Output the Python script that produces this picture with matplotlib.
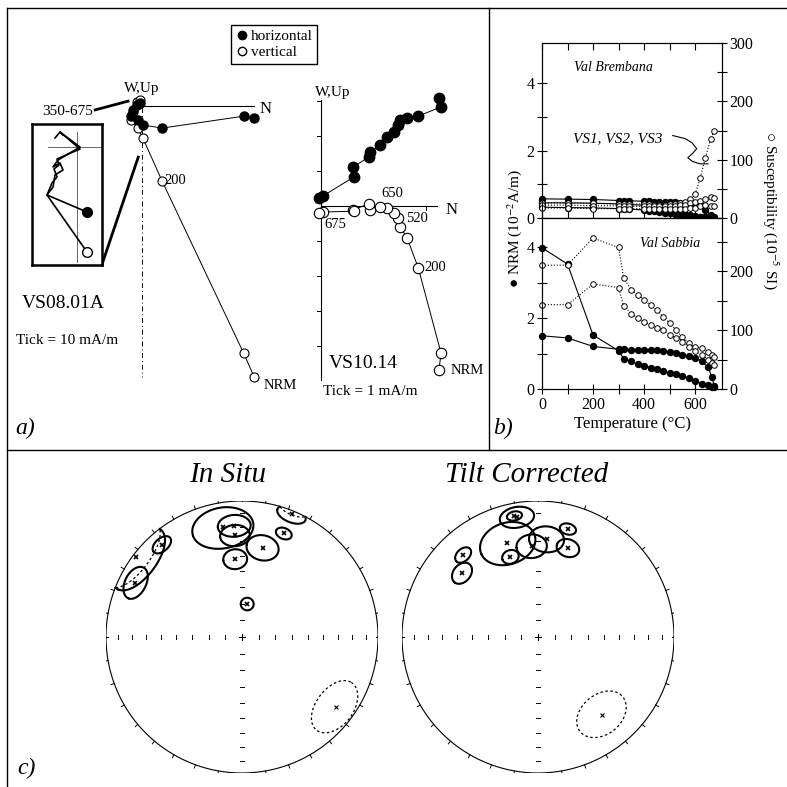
import numpy as np
import matplotlib.pyplot as plt
from matplotlib.lines import Line2D

plt.rcParams['font.family'] = ['Liberation Serif', 'DejaVu Sans']
plt.rcParams['mathtext.fontset'] = 'stix'

# ---------------- data ----------------
# a) Zijderveld, VS08.01A (mA/m), NRM first
n_vs08 = [32.0, 29.0, 5.7, 0.2, -1.2, -3.2, -2.6, -1.4, -0.6]
w_vs08 = [-3.4, -2.9, -6.3, -5.4, -4.0, -2.8, -1.0, 0.4, 1.0]
up_vs08 = [-77.4, -70.6, -21.4, -9.1, -6.3, -4.0, -1.7, 1.1, 1.7]

# inset (magnified 350-675 steps)
ins_h_x = [10, -30, -24, -22, -14, -17, -24, -19, 3, -17, -14]
ins_h_y = [-65, -48, -40, -28, -23, -16, -20, -13, 0, 15, 12]
ins_v_x = [10, -30, -25, -20, -23, -18, -20, 3, -17, -22]
ins_v_y = [-105, -48, -36, -30, -22, -18, -12, -2, 15, 9]

# a) Zijderveld, VS10.14 (mA/m)
n_vs10 = [3.37, 3.43, 2.78, 2.46, 2.26, 2.20, 2.10, 1.89, 1.69, 1.40, 1.37, 0.91, 0.94, 0.06, -0.07]
w_vs10 = [3.09, 2.83, 2.57, 2.51, 2.46, 2.31, 2.11, 1.97, 1.74, 1.54, 1.40, 1.11, 0.83, 0.29, 0.23]
up_vs10 = [-4.69, -4.20, -1.77, -0.91, -0.60, -0.34, -0.20, -0.06, -0.03, -0.11, 0.06, -0.11, -0.15, -0.17, -0.20]

# b) thermal demagnetisation / susceptibility
t_brem = [0, 100, 200, 300, 320, 340, 400, 420, 440, 460, 480, 500, 520, 540, 560, 580, 600, 620, 640, 660, 675]
nrm_brem1 = [0.57, 0.56, 0.55, 0.52, 0.52, 0.51, 0.50, 0.50, 0.49, 0.49, 0.48, 0.48, 0.47, 0.46, 0.45, 0.44, 0.42, 0.38, 0.25, 0.08, 0.04]
nrm_brem2 = [0.45, 0.45, 0.44, 0.42, 0.41, 0.40, 0.38, 0.36, 0.33, 0.30, 0.27, 0.23, 0.19, 0.15, 0.11, 0.08, 0.05, 0.03, 0.02, 0.01, 0.01]
nrm_brem3 = [0.32, 0.31, 0.30, 0.28, 0.27, 0.26, 0.24, 0.22, 0.20, 0.18, 0.16, 0.14, 0.12, 0.10, 0.08, 0.06, 0.04, 0.03, 0.02, 0.01, 0.01]
sus_brem1 = [26, 26, 25, 24, 24, 24, 24, 24, 23, 23, 23, 24, 24, 25, 28, 32, 41, 69, 103, 135, 150]
sus_brem2 = [22, 22, 21, 21, 21, 20, 20, 20, 20, 20, 21, 21, 21, 22, 23, 25, 28, 30, 33, 36, 35]
sus_brem3 = [17, 17, 16, 16, 16, 16, 16, 15, 15, 15, 15, 15, 15, 16, 16, 17, 18, 20, 22, 21, 20]

t_sab = [0, 100, 200, 300, 320, 350, 375, 400, 425, 450, 475, 500, 525, 550, 575, 600, 625, 650, 665, 675]
nrm_sab1 = [3.98, 3.52, 1.52, 1.08, 0.85, 0.78, 0.70, 0.66, 0.60, 0.55, 0.50, 0.46, 0.41, 0.36, 0.30, 0.22, 0.15, 0.10, 0.07, 0.05]
nrm_sab2 = [1.50, 1.44, 1.20, 1.12, 1.12, 1.10, 1.10, 1.10, 1.10, 1.10, 1.08, 1.05, 1.02, 0.97, 0.92, 0.88, 0.78, 0.62, 0.35, 0.08]
sus_sab1 = [210, 210, 256, 240, 188, 168, 160, 151, 142, 134, 122, 112, 100, 88, 78, 71, 70, 63, 58, 54]
sus_sab2 = [143, 143, 178, 172, 140, 128, 120, 114, 108, 104, 100, 92, 86, 80, 72, 64, 58, 50, 44, 40]

# c) site means: declination, inclination, alpha95
dec_situ = [307, 297, 319, 350, 356, 356, 355, 13, 22, 22, 9, 127]
inc_situ = [3, 13, 11, 19, 19, 26, 42, 33, 19, 3, 70, -15]
a95_situ = [16, 8, 5, 15, 8, 7.5, 6.5, 8.5, 4, 6.5, 3.8, 14]

dec_tilt = [350, 349, 342, 341, 356, 5, 15.5, 18.6, 317.6, 310, 140.6]
inc_tilt = [11.4, 10.2, 28, 37.7, 33.4, 28.5, 18.7, 31.5, 19.4, 27.8, -26.7]
a95_tilt = [8, 3.5, 14.5, 4.5, 8, 9, 4, 6, 4.5, 6, 14]

# ---------------- helpers ----------------
W = H = 787.0


def box(x0, y0, x1, y1):
    return [x0 / W, 1 - y1 / H, (x1 - x0) / W, (y1 - y0) / H]


def fx(x):
    return x / W


def fy(y):
    return 1 - y / H


fig = plt.figure(figsize=(7.87, 7.87), dpi=100)

# frame lines
for xs, ys in [((7, 787), (8, 8)), ((7, 7), (8, 787)), ((7, 787), (450, 450)), ((489, 489), (8, 450))]:
    fig.add_artist(Line2D([fx(v) for v in xs], [fy(v) for v in ys], color='k', lw=1.0,
                          transform=fig.transFigure))

# ---------------- a) left Zijderveld ----------------
axL = fig.add_axes(box(15, 70, 300, 400))
axL.set_xlim(-36.3, 45.1)
axL.set_ylim(-84, 10.3)
axL.axis('off')
axL.plot([-1, 32], [0, 0], 'k', lw=0.8)
axL.plot([0, 0], [3, -77.5], color='k', lw=0.7, ls=(0, (5, 3, 1, 3)))
axL.plot(n_vs08, up_vs08, 'k-', lw=0.7, marker='o', mfc='white', mec='k', ms=6.5, mew=0.8, zorder=3)
axL.plot(n_vs08, w_vs08, 'k-', lw=0.7, marker='o', mfc='k', mec='k', ms=6.5, zorder=4)
axL.plot([-13.4, -4], [-1.1, 1.4], 'k', lw=2)
axL.plot([-11.4, -1.1], [-45.1, -14.6], 'k', lw=2)
axL.text(0, 5.1, 'W,Up', fontsize=11, ha='center', va='center')
axL.text(35.3, -0.9, 'N', fontsize=12, ha='center', va='center')
axL.text(9.5, -21.4, '200', fontsize=10.5, ha='center', va='center')
axL.text(39.5, -79.8, 'NRM', fontsize=10.5, ha='center', va='center')
axL.text(-21.4, -1.7, '350-675', fontsize=11, ha='center', va='center')
axL.text(-22.6, -56.3, 'VS08.01A', fontsize=14, ha='center', va='center')
axL.text(-21.4, -66.9, 'Tick = 10 mA/m', fontsize=11, ha='center', va='center')

# inset
axI = fig.add_axes(box(32, 124, 102, 265))
axI.set_xlim(-45, 25)
axI.set_ylim(-118, 23)
axI.set_xticks([])
axI.set_yticks([])
for sp in axI.spines.values():
    sp.set_linewidth(1.8)
axI.plot([0, 0], [15, -115], color='0.3', lw=0.6)
axI.plot([-29, 25], [0, 0], color='0.3', lw=0.6)
axI.plot(ins_v_x, ins_v_y, 'k-', lw=1.2)
axI.plot(ins_h_x, ins_h_y, 'k-', lw=1.2)
axI.plot(ins_h_x[0], ins_h_y[0], 'o', mfc='k', mec='k', ms=7)
axI.plot(ins_v_x[0], ins_v_y[0], 'o', mfc='white', mec='k', ms=7)

# ---------------- a) right Zijderveld ----------------
axR = fig.add_axes(box(300, 70, 485, 400))
axR.set_xlim(-0.6, 4.686)
axR.set_ylim(-5.543, 3.886)
axR.axis('off')
axR.plot([0, 0], [3.03, -4.97], 'k', lw=0.8)
axR.plot([0, 3.31], [0, 0], 'k', lw=0.8)
for k in [-4, -3, -2, -1, 1, 2, 3]:
    axR.plot([-0.1, 0], [k, k], 'k', lw=0.7)
for k in [1, 2, 3]:
    axR.plot([k, k], [0, -0.1], 'k', lw=0.7)
axR.plot(n_vs10, up_vs10, 'k-', lw=0.7, marker='o', mfc='white', mec='k', ms=7.5, mew=0.8, zorder=3)
axR.plot(n_vs10, w_vs10, 'k-', lw=0.7, marker='o', mfc='k', mec='k', ms=7.5, zorder=4)
axR.text(0.34, 3.23, 'W,Up', fontsize=11, ha='center', va='center')
axR.text(3.74, -0.11, 'N', fontsize=12, ha='center', va='center')
axR.text(2.03, 0.37, '650', fontsize=10.5, ha='center', va='center')
axR.text(0.42, -0.54, '675', fontsize=10.5, ha='center', va='center')
axR.text(2.74, -0.37, '520', fontsize=10.5, ha='center', va='center')
axR.text(3.26, -1.77, '200', fontsize=10.5, ha='center', va='center')
axR.text(4.17, -4.71, 'NRM', fontsize=10.5, ha='center', va='center')
axR.text(1.2, -4.49, 'VS10.14', fontsize=14, ha='center', va='center')
axR.text(1.4, -5.31, 'Tick = 1 mA/m', fontsize=11, ha='center', va='center')

handles = [Line2D([], [], ls='', marker='o', mfc='k', mec='k', ms=6),
           Line2D([], [], ls='', marker='o', mfc='white', mec='k', ms=6)]
fig.legend(handles, ['horizontal', 'vertical'], loc='upper left',
           bbox_to_anchor=(fx(231), fy(25)), fontsize=11, frameon=True, fancybox=False,
           edgecolor='k', framealpha=1, borderpad=0.3, handletextpad=0.1,
           handlelength=0.9, labelspacing=0.15, borderaxespad=0)
fig.text(fx(15), fy(428), 'a)', fontsize=17, style='italic', ha='left', va='center')

# ---------------- b) ----------------
axT = fig.add_axes(box(542, 43, 722, 218))
axB = fig.add_axes(box(542, 218, 722, 389))
axT2 = axT.twinx()
axB2 = axB.twinx()

fill_kw = dict(color='k', lw=0.8, marker='o', ms=4.3, mfc='k', mec='k', clip_on=False)
open_kw = dict(color='k', lw=0.8, ls=':', marker='o', ms=4.0, mfc='white', mec='k', mew=0.7, clip_on=False)
for s in (nrm_brem1, nrm_brem2, nrm_brem3):
    axT.plot(t_brem, s, **fill_kw)
for s in (sus_brem1, sus_brem2, sus_brem3):
    axT2.plot(t_brem, s, **open_kw)
for s in (nrm_sab1, nrm_sab2):
    axB.plot(t_sab, s, **fill_kw)
for s in (sus_sab1, sus_sab2):
    axB2.plot(t_sab, s, **open_kw)

for ax in (axT, axB):
    ax.set_xlim(0, 705)
    ax.set_xticks([0, 200, 400, 600])
    ax.set_xticks([100, 300, 500], minor=True)
    ax.set_yticks([0, 2, 4])
    ax.set_yticks([1, 3], minor=True)
axT.set_ylim(0, 5.2)
axB.set_ylim(0, 4.82)
axT2.set_ylim(0, 300)
axT2.set_yticks([0, 100, 200, 300])
axT2.set_yticks([50, 150, 250], minor=True)
axB2.set_ylim(0, 290)
axB2.set_yticks([0, 100, 200])
axB2.set_yticks([50, 150, 250], minor=True)
for ax in (axT, axB, axT2, axB2):
    ax.tick_params(which='both', direction='inout', length=7, width=0.8, labelsize=11.5, pad=2)
    for sp in ax.spines.values():
        sp.set_linewidth(0.8)
axT.tick_params(axis='x', which='both', top=True, labelbottom=False, direction='in', length=5)
axB.tick_params(axis='x', which='both', direction='inout')

axT.text(126, 4.48, 'Val Brembana', fontsize=10, style='italic', va='center')
axT.text(295, 2.36, 'VS1, VS2, VS3', fontsize=11, style='italic', ha='center', va='center')
axT.plot([512, 560, 587, 606, 590, 571, 590, 618, 650], [2.45, 2.36, 2.24, 2.06, 1.92, 1.79, 1.68, 1.61, 1.61],
         'k', lw=0.8)
axB.text(500, 4.11, 'Val Sabbia', fontsize=10, style='italic', ha='center', va='center')

fig.text(fx(515), fy(228), '● NRM (10$^{-2}$A/m)', rotation=90, fontsize=11, ha='center', va='center')
fig.text(fx(771), fy(210), '○ Susceptibility (10$^{-5}$ SI)', rotation=270, fontsize=11,
         ha='center', va='center')
fig.text(fx(633), fy(424), 'Temperature (°C)', fontsize=12, ha='center', va='center')
fig.text(fx(493), fy(428), 'b)', fontsize=17, style='italic', ha='left', va='center')


# ---------------- c) stereonets ----------------
def to_xyz(dec, inc):
    d, i = np.radians(dec), np.radians(inc)
    return np.array([np.cos(i) * np.cos(d), np.cos(i) * np.sin(d), np.sin(i)])


def project(v):
    inc = np.arcsin(np.clip(v[2], -1, 1))
    dec = np.arctan2(v[1], v[0])
    r = np.sqrt(1 - np.abs(np.sin(inc)))
    return r * np.sin(dec), r * np.cos(dec), v[2] >= 0


def draw_site(ax, dec, inc, a95):
    c = to_xyz(dec, inc)
    u = np.cross(c, [0, 0, 1.0])
    u /= np.linalg.norm(u)
    w = np.cross(c, u)
    t = np.linspace(0, 2 * np.pi, 241)
    a = np.radians(a95)
    pts = np.cos(a) * c[:, None] + np.sin(a) * (np.outer(u, np.cos(t)) + np.outer(w, np.sin(t)))
    x, y, lower = project(pts)
    cuts = np.flatnonzero(np.diff(lower.astype(int)) != 0) + 1
    for seg in np.split(np.arange(len(x)), cuts):
        if lower[seg[0]]:
            ax.plot(x[seg], y[seg], color='k', lw=1.5, solid_capstyle='round')
        else:
            ax.plot(x[seg], y[seg], color='k', lw=0.9, ls=(0, (2, 2)))
    px, py, low = project(c[:, None])
    ax.plot(px, py, 'x', color='k', ms=3.5 if low[0] else 3, mew=1.2 if low[0] else 0.8)


def stereonet(ax):
    t = np.linspace(0, 2 * np.pi, 361)
    ax.plot(np.cos(t), np.sin(t), 'k', lw=0.8)
    for az in np.radians(np.arange(0, 360, 10)):
        ax.plot([np.sin(az), 1.025 * np.sin(az)], [np.cos(az), 1.025 * np.cos(az)], 'k', lw=0.7)
    rr = np.sqrt(1 - np.sin(np.radians(np.arange(10, 90, 10))))
    for r in rr:
        for sgn in (1, -1):
            ax.plot([sgn * r, sgn * r], [-0.012, 0.012], 'k', lw=0.7)
            ax.plot([-0.012, 0.012], [sgn * r, sgn * r], 'k', lw=0.7)
    for sgn in (1, -1):
        ax.plot([sgn * 0.985, sgn * 1.02], [0, 0], 'k', lw=0.7)
    ax.plot([-0.025, 0.025], [0, 0], 'k', lw=0.8)
    ax.plot([0, 0], [-0.025, 0.025], 'k', lw=0.8)


for cx, title, tx, decs, incs, a95s in [(242, 'In Situ', 228, dec_situ, inc_situ, a95_situ),
                                         (538, 'Tilt Corrected', 527, dec_tilt, inc_tilt, a95_tilt)]:
    ax = fig.add_axes(box(cx - 136, 637 - 136, cx + 136, 637 + 136))
    ax.set_xlim(-1, 1)
    ax.set_ylim(-1, 1)
    ax.axis('off')
    stereonet(ax)
    for d, i, a in zip(decs, incs, a95s):
        draw_site(ax, d, i, a)
    fig.text(fx(tx), fy(475), title, fontsize=21, style='italic', ha='center', va='center')

fig.text(fx(17), fy(768), 'c)', fontsize=17, style='italic', ha='left', va='center')

fig.savefig('out.png', dpi=100, facecolor='white')
